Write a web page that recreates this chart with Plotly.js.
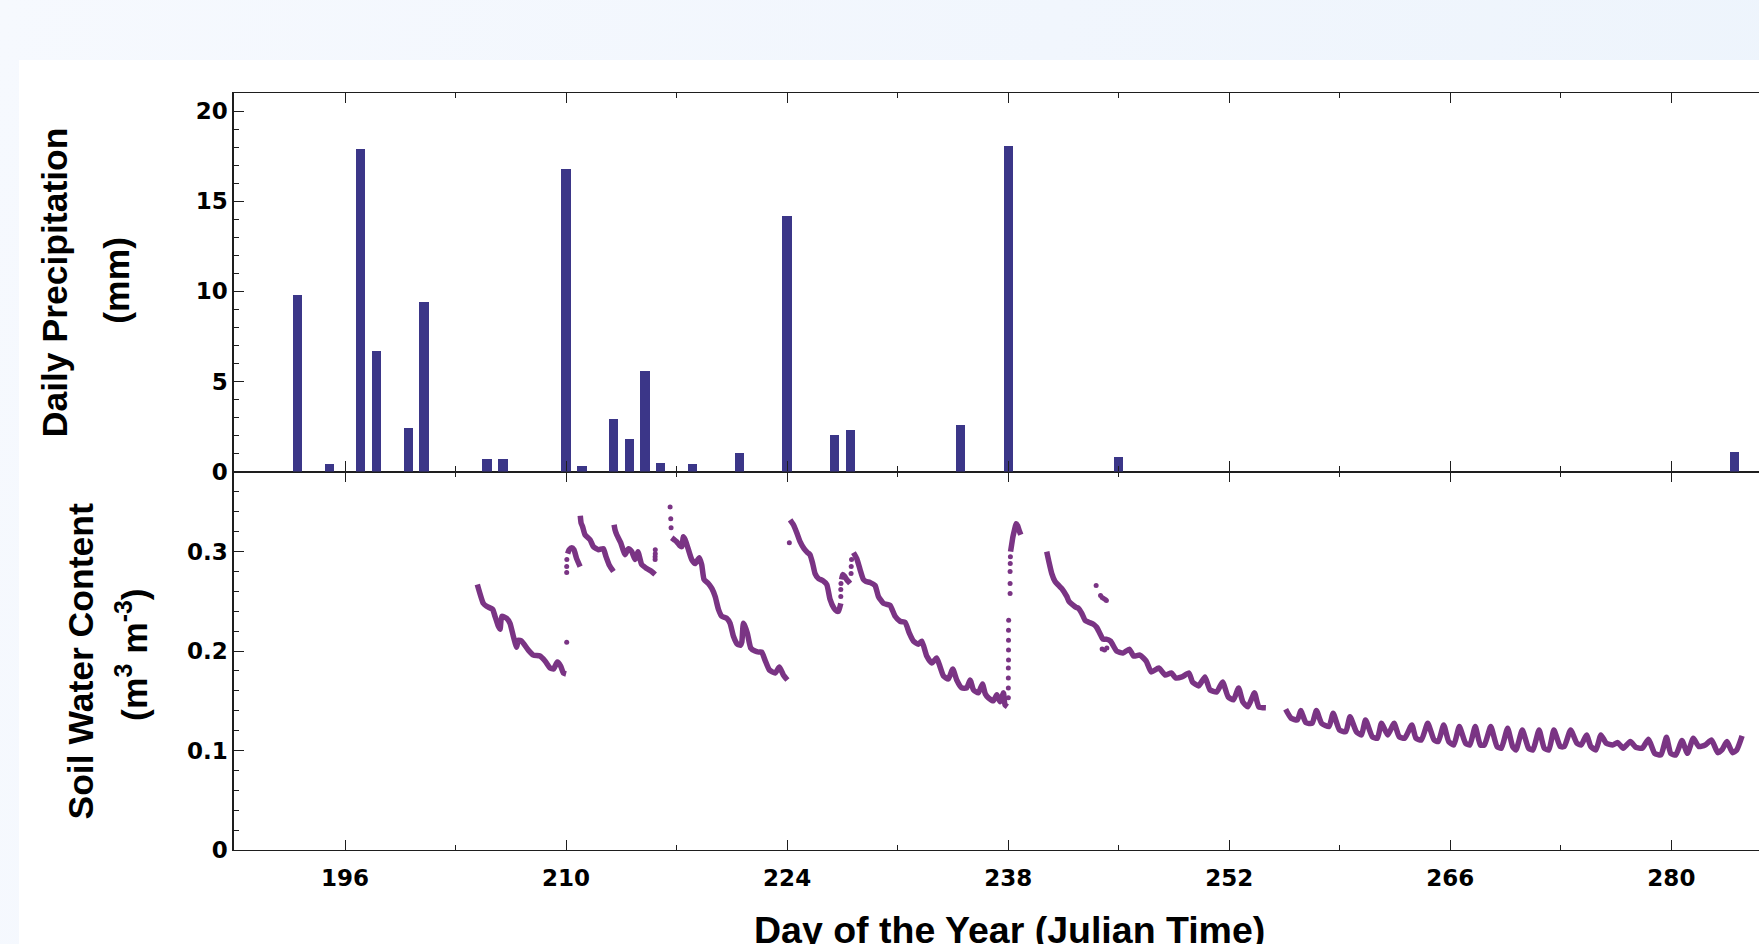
<!DOCTYPE html>
<html><head><meta charset="utf-8">
<script src="https://cdn.plot.ly/plotly-3.0.1.min.js"></script>
<style>
html,body{margin:0;padding:0;width:1759px;height:944px;overflow:hidden;background:linear-gradient(100deg,#f6f9fe 0%,#f1f6fd 55%,#edf4fc 100%);}
#chart{position:absolute;left:19px;top:60px;width:1740px;height:884px;background:#fff;}
</style></head><body><div id="chart"></div>
<script>
// Daily precipitation (mm)
const precipDays = [193,195,197,198,200,201,205,206,210,211,213,214,215,216,218,221,224,227,228,235,238,245,284];
const precipVals = [9.8,0.4,17.9,6.7,2.4,9.4,0.7,0.7,16.8,0.3,2.9,1.8,5.6,0.5,0.4,1.0,14.2,2.0,2.3,2.6,18.1,0.8,1.1];

// Soil water content, continuous stretches (null = gap)
const swcDays = [
 204.38,204.76,204.97,205.35,205.50,205.71,205.82,205.93,206.24,206.45,206.66,206.87,206.98,207.19,207.61,207.93,208.35,208.67,208.99,209.20,209.45,209.66,209.83,210.00,null,
 210.10,210.20,210.36,210.50,210.67,210.89,null,
 210.90,210.95,211.05,211.20,211.52,211.73,212.05,212.36,212.53,212.75,213.00,null,
 213.04,213.10,213.21,213.46,213.74,213.95,214.16,214.37,214.55,214.79,215.11,215.42,215.64,null,
 216.69,216.85,217.01,217.20,217.33,217.43,217.54,217.75,217.96,218.17,218.44,218.59,218.74,219.01,219.23,219.44,219.65,219.86,220.18,220.39,220.60,220.85,221.05,221.13,221.23,221.33,221.48,221.70,221.97,222.20,222.39,222.60,222.88,223.24,223.51,223.76,224.02,null,
 224.19,224.40,224.61,224.82,225.07,225.30,225.45,225.62,225.77,225.98,226.25,226.51,226.72,226.97,227.15,227.25,227.40,null,
 227.45,227.52,227.65,227.77,227.99,null,
 228.20,228.41,228.62,228.83,229.00,229.25,229.57,229.78,230.10,230.30,230.52,230.84,231.15,231.47,231.74,232.00,232.31,232.53,232.84,233.16,233.47,233.69,233.90,234.21,234.49,234.74,235.06,235.37,235.59,235.80,236.11,236.37,236.55,236.75,237.06,237.28,237.49,237.70,237.80,237.95,null,
 238.15,238.22,238.30,238.40,238.50,238.60,238.70,238.80,null,
 240.44,240.55,240.76,240.97,241.20,241.39,241.71,241.85,242.13,242.30,242.45,242.66,242.87,243.10,243.40,243.60,243.80,244.00,244.20,244.48,244.87,245.27,245.67,245.94,246.34,246.74,247.06,247.54,247.94,248.33,248.60,249.00,249.45,249.67,250.06,250.46,250.78,251.21,251.58,251.93,252.27,252.59,252.86,253.18,253.60,253.87,254.32,null,
 255.57,255.92,256.32,256.53,256.85,257.25,257.52,257.85,258.32,258.58,258.98,259.38,259.65,260.05,260.37,260.63,261.06,261.38,261.64,262.04,262.44,262.76,263.11,263.56,263.83,264.17,264.57,264.97,265.24,265.58,265.90,266.22,266.57,266.97,267.24,267.58,267.90,268.16,268.56,268.96,269.23,269.63,269.95,270.16,270.56,270.96,271.23,271.62,271.95,272.24,272.56,272.96,273.22,273.62,274.02,274.29,274.63,274.90,275.22,275.54,275.88,276.28,276.60,276.95,277.40,277.75,278.15,278.55,278.94,279.34,279.69,279.96,280.28,280.67,281.02,281.39,281.74,282.14,282.54,282.94,283.20,283.52,283.87,284.14,284.48
];
const swcVals = [
 0.267,0.248,0.245,0.242,0.235,0.225,0.222,0.235,0.233,0.228,0.215,0.204,0.211,0.210,0.201,0.196,0.195,0.190,0.183,0.182,0.189,0.185,0.178,0.177,null,
 0.298,0.302,0.304,0.302,0.293,0.285,null,
 0.336,0.329,0.325,0.317,0.312,0.305,0.302,0.303,0.295,0.286,0.280,null,
 0.327,0.322,0.317,0.309,0.297,0.303,0.300,0.292,0.300,0.287,0.283,0.280,0.277,null,
 0.314,0.312,0.310,0.306,0.305,0.315,0.312,0.302,0.292,0.288,0.294,0.287,0.272,0.268,0.263,0.255,0.242,0.235,0.233,0.228,0.215,0.207,0.206,0.209,0.228,0.225,0.218,0.203,0.200,0.199,0.199,0.191,0.181,0.178,0.184,0.176,0.171,null,
 0.332,0.327,0.319,0.310,0.303,0.299,0.297,0.288,0.278,0.273,0.271,0.267,0.252,0.243,0.240,0.240,0.248,null,
 0.272,0.277,0.275,0.272,0.268,null,
 0.299,0.293,0.282,0.272,0.270,0.269,0.266,0.255,0.248,0.247,0.246,0.235,0.230,0.229,0.218,0.210,0.207,0.210,0.195,0.188,0.193,0.184,0.175,0.172,0.182,0.171,0.163,0.163,0.171,0.161,0.158,0.167,0.157,0.153,0.150,0.156,0.149,0.158,0.146,0.144,null,
 0.300,0.307,0.315,0.322,0.328,0.326,0.321,0.317,null,
 0.300,0.292,0.278,0.270,0.266,0.263,0.255,0.250,0.246,0.244,0.243,0.238,0.231,0.229,0.227,0.224,0.218,0.212,0.212,0.210,0.200,0.198,0.202,0.195,0.196,0.190,0.179,0.183,0.176,0.178,0.173,0.174,0.178,0.169,0.165,0.174,0.161,0.159,0.169,0.154,0.151,0.163,0.149,0.144,0.158,0.144,0.143,null,
 0.1415,0.1325,0.1308,0.1402,0.1281,0.1274,0.1402,0.1274,0.1241,0.1375,0.1207,0.1190,0.1341,0.1190,0.1157,0.1308,0.1140,0.1123,0.1274,0.1157,0.1274,0.1140,0.1123,0.1258,0.1123,0.1107,0.1274,0.1107,0.1090,0.1258,0.1090,0.1056,0.1241,0.1073,0.1056,0.1241,0.1056,0.1056,0.1241,0.1040,0.1023,0.1224,0.1040,0.1006,0.1207,0.1023,0.1006,0.1207,0.1023,0.1006,0.1207,0.1040,0.1040,0.1207,0.1073,0.1056,0.1157,0.1040,0.1006,0.1157,0.1073,0.1056,0.1080,0.1023,0.1090,0.1033,0.1023,0.1113,0.0972,0.0956,0.1133,0.0972,0.0956,0.1100,0.0972,0.1123,0.1040,0.1056,0.1107,0.0979,0.1006,0.1090,0.0979,0.1006,0.1147
];

// Soil water content, isolated / sparse readings
const swcDotDays = [210.04,210.04,210.04,210.05,215.64,215.64,215.65,215.65,216.59,216.63,216.65,224.14,227.40,227.40,227.41,228.05,228.06,228.08,
 238.01,238.01,238.01,238.01,238.02,238.02,238.02,238.02,238.03,238.12,238.12,238.12,238.13,238.14,
 243.57,243.85,243.95,244.05,244.15,244.22,243.95,244.10,244.25];
const swcDotVals = [0.209,0.279,0.285,0.292,0.292,0.295,0.298,0.302,0.345,0.333,0.324,0.309,0.255,0.262,0.268,0.278,0.285,0.292,
 0.153,0.163,0.173,0.183,0.191,0.201,0.211,0.221,0.231,0.258,0.268,0.280,0.288,0.295,
 0.266,0.256,0.254,0.253,0.252,0.251,0.202,0.201,0.203];

const xTitle = 'Day of the Year (Julian Time)';
const yTitleTop = ['Daily Precipitation', '(mm)'];
const yTitleBottom = ['Soil Water Content', '(m<sup>3</sup> m<sup>-3</sup>)'];

const barColor = '#3b3688';
const swcColor = '#7a3484';
const axisColor = '#1e1e1e';
const tickFontX = {family: 'DejaVu Sans, Liberation Sans, sans-serif', size: 23, color: '#000', weight: 'bold'};
const tickFontY = {family: 'DejaVu Sans, Liberation Sans, sans-serif', size: 23, color: '#000', weight: 'bold'};
const titleFamily = 'Liberation Sans, Arial, sans-serif';

const traces = [
  {type: 'bar', x: precipDays, y: precipVals, xaxis: 'x2', yaxis: 'y2', width: 0.59,
   marker: {color: barColor, line: {width: 0}}, hoverinfo: 'x+y'},
  {type: 'scatter', mode: 'lines', x: swcDays, y: swcVals, xaxis: 'x', yaxis: 'y', connectgaps: false,
   line: {color: swcColor, width: 5.5, shape: 'spline', smoothing: 0.5}},
  {type: 'scatter', mode: 'markers', x: swcDotDays, y: swcDotVals, xaxis: 'x', yaxis: 'y',
   marker: {color: swcColor, size: 5}}
];

const xRange = [188.97, 285.55];
function xAxisBase() {
  return {range: xRange, tick0: 196, dtick: 14, ticks: 'inside', ticklen: 10, tickwidth: 1.3, tickcolor: axisColor,
    showline: true, linecolor: axisColor, linewidth: 1.3, mirror: 'ticks', showgrid: false, zeroline: false,
    minor: {dtick: 7, tick0: 196, ticks: 'inside', ticklen: 5, tickwidth: 1, tickcolor: axisColor}};
}
const xa = xAxisBase(); xa.anchor = 'y'; xa.tickfont = tickFontX; xa.ticklabelstandoff = 7;
const xa2 = xAxisBase(); xa2.anchor = 'y2'; xa2.showticklabels = false; xa2.matches = 'x';

const layout = {
  width: 1740, height: 884,
  margin: {l: 215, r: 0, t: 33, b: 94},
  paper_bgcolor: '#fff', plot_bgcolor: '#fff',
  showlegend: false, bargap: 0,
  xaxis: xa, xaxis2: xa2,
  yaxis: {domain: [0, 0.5], anchor: 'x', range: [0, 0.3806], tick0: 0, dtick: 0.1, ticks: 'inside', ticklen: 10, tickwidth: 1.3,
    tickcolor: axisColor, showline: true, linecolor: axisColor, linewidth: 1.5, showgrid: false, zeroline: false,
    tickfont: tickFontY, ticklabelstandoff: 0,
    minor: {dtick: 0.02, tick0: 0, ticks: 'inside', ticklen: 5, tickwidth: 1, tickcolor: axisColor}},
  yaxis2: {domain: [0.5, 1], anchor: 'x2', range: [0, 21.02], tick0: 0, dtick: 5, ticks: 'inside', ticklen: 10, tickwidth: 1.3,
    tickcolor: axisColor, showline: true, linecolor: axisColor, linewidth: 1.5, showgrid: false, zeroline: false,
    tickfont: tickFontY, ticklabelstandoff: 0,
    minor: {dtick: 1, tick0: 0, ticks: 'inside', ticklen: 5, tickwidth: 1, tickcolor: axisColor}},
  annotations: [
    {text: '<b>' + xTitle + '</b>', xref: 'paper', yref: 'paper', x: 0.5082, y: 0, xanchor: 'center', yanchor: 'middle', yshift: -80,
     showarrow: false, font: {family: 'Liberation Sans, Arial, sans-serif', size: 37.5, color: '#000'}},
    {text: '<b>' + yTitleTop[0] + '</b>', xref: 'paper', yref: 'paper', x: 0, y: 0.75, xshift: -179, xanchor: 'center', yanchor: 'middle',
     textangle: -90, showarrow: false, font: {family: titleFamily, size: 35.5, color: '#000'}},
    {text: '<b>' + yTitleTop[1] + '</b>', xref: 'paper', yref: 'paper', x: 0, y: 0.752, xshift: -117, xanchor: 'center', yanchor: 'middle',
     textangle: -90, showarrow: false, font: {family: titleFamily, size: 35.5, color: '#000'}},
    {text: '<b>' + yTitleBottom[0] + '</b>', xref: 'paper', yref: 'paper', x: 0, y: 0.249, xshift: -153, xanchor: 'center', yanchor: 'middle',
     textangle: -90, showarrow: false, font: {family: titleFamily, size: 35.5, color: '#000'}},
    {text: '<b>' + yTitleBottom[1] + '</b>', xref: 'paper', yref: 'paper', x: 0, y: 0.2577, xshift: -101, xanchor: 'center', yanchor: 'middle',
     textangle: -90, showarrow: false, font: {family: titleFamily, size: 35.5, color: '#000'}}
  ]
};

Plotly.newPlot('chart', traces, layout, {displayModeBar: false, responsive: false});
</script>
</body></html>
